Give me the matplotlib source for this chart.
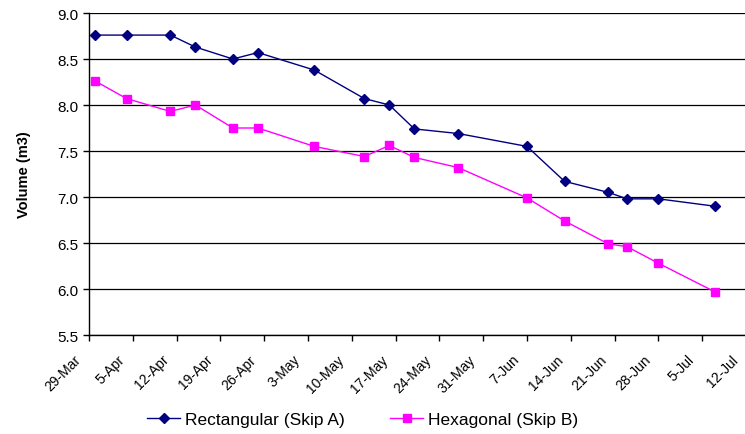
import numpy as np
import pandas as pd
import matplotlib
matplotlib.use("Agg")
from matplotlib import pyplot as plt
from matplotlib.transforms import ScaledTranslation, blended_transform_factory

plt.rcParams['font.family'] = ['Liberation Sans', 'DejaVu Sans']

dates = pd.to_datetime([
    '2009-03-30', '2009-04-04', '2009-04-11', '2009-04-15', '2009-04-21',
    '2009-04-25', '2009-05-04', '2009-05-12', '2009-05-16', '2009-05-20',
    '2009-05-27', '2009-06-07', '2009-06-13', '2009-06-20', '2009-06-23',
    '2009-06-28', '2009-07-07'])
rect_a = [8.76, 8.76, 8.76, 8.63, 8.50, 8.57, 8.38, 8.07, 8.00, 7.74,
          7.69, 7.55, 7.17, 7.05, 6.98, 6.98, 6.90]
hex_b = [8.26, 8.07, 7.93, 8.00, 7.75, 7.75, 7.55, 7.44, 7.56, 7.43,
         7.32, 6.99, 6.74, 6.49, 6.46, 6.28, 5.97]
labels = ['Rectangular (Skip A)', 'Hexagonal (Skip B)']

tick_dates = pd.date_range('2009-03-29', '2009-07-12', freq='7D')
tick_labels = [f'{d.day}-{d.strftime("%b")}' for d in tick_dates]

fig = plt.figure(figsize=(7.45, 4.35), dpi=100)
ax = fig.add_axes([89 / 745, 99 / 435, 657 / 745, 322 / 435])

ax.plot(dates, rect_a, color='#000080', marker='D', markersize=5, linewidth=1, label=labels[0])
ax.plot(dates, hex_b, color='#FF00FF', marker='s', markersize=5.5, linewidth=1, label=labels[1])

ax.set_xlim(tick_dates[0], tick_dates[-1])
ax.set_ylim(5.5, 9.0)
ax.set_yticks(np.arange(5.5, 9.01, 0.5))
ax.yaxis.set_major_formatter(matplotlib.ticker.FormatStrFormatter('%.1f'))
ax.set_xticks(tick_dates)
ax.set_xticklabels([])

# Excel-style rotated date labels, ending just left of each tick
trans = blended_transform_factory(ax.transData, ax.transAxes) + \
    ScaledTranslation(-10 / 100, -22 / 100, fig.dpi_scale_trans)
for d, lab in zip(tick_dates, tick_labels):
    ax.text(d, 0, lab, transform=trans, rotation=45, ha='right', va='center',
            rotation_mode='anchor', fontsize=10, clip_on=False)

ax.tick_params(axis='y', labelsize=11, length=4, width=1)
ax.tick_params(axis='x', length=4, width=1)

ax.grid(axis='y', color='black', linewidth=0.9)
ax.set_axisbelow(True)
for s in ['top', 'right']:
    ax.spines[s].set_visible(False)
for s in ['left', 'bottom']:
    ax.spines[s].set_linewidth(1)

ax.set_ylabel('Volume (m3)', fontweight='bold', fontsize=10.5, labelpad=19)

fig.legend(loc='center', bbox_to_anchor=(0.487, 15 / 435), ncol=2, frameon=False,
           fontsize=12.5, handlelength=1.9, handletextpad=0.3, columnspacing=2.6)

fig.savefig('out.png', dpi=100)
